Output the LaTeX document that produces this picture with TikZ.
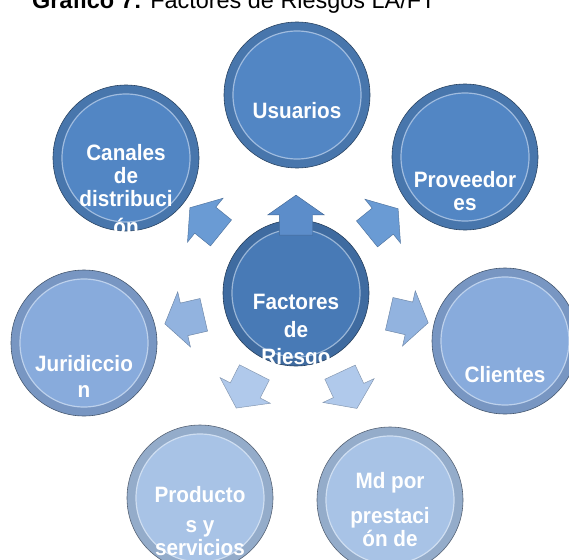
\documentclass[tikz,border=0pt]{standalone}
\usepackage{fontspec}
\setmainfont{Liberation Sans}
\newfontfamily\bubblefont[FakeStretch=0.93]{Liberation Sans}
\usetikzlibrary{shapes.arrows,positioning}

\definecolor{darkfac}{RGB}{72,122,182}
\definecolor{topfac}{RGB}{82,134,196}
\definecolor{midfac}{RGB}{136,171,220}
\definecolor{lowfac}{RGB}{168,195,230}
\definecolor{toparr}{RGB}{92,141,202}
\definecolor{diagarr}{RGB}{106,155,212}
\definecolor{sidearr}{RGB}{146,179,223}
\definecolor{lowarr}{RGB}{176,201,235}

\tikzset{
  bubble/.style={circle, draw=#1!50!black, line width=0.5pt, fill=#1!88!black,
    minimum size=4.38cm, inner sep=0pt,
    path picture={
      \fill[#1] (path picture bounding box.center) circle[radius=1.92cm];
      \draw[#1!55!white, line width=1pt] (path picture bounding box.center) circle[radius=1.92cm];
    }},
  factxt/.style={text=white, font=\bubblefont\bfseries\fontsize{19}{21}\selectfont,
    align=center, inner sep=0pt, anchor=north},
  riskarrow/.style={single arrow, draw=#1!75!black, fill=#1, line width=0.4pt,
    minimum height=1.2cm, minimum width=1.68cm, single arrow head extend=0.345cm,
    single arrow tip angle=110, inner xsep=0pt, inner ysep=0.495cm}
}

\begin{document}
\begin{tikzpicture}[x=0.03cm, y=-0.03cm]
  \useasboundingbox (0,0) rectangle (569,559);

  \node[anchor=base west, inner sep=0pt, font=\fontsize{20}{24}\selectfont] (title) at (32,9)
    {\textbf{Gráfico 7:} Factores de Riesgos LA/FT};

  % circles
  \node[bubble=topfac] (usu) at (297,95) {};
  \node[bubble=topfac] (can) at (126,158) {};
  \node[bubble=topfac] (pro) at (465,157) {};
  \node[bubble=darkfac] (fac) at (296,293) {};
  \node[bubble=midfac] (jur) at (84,343) {};
  \node[bubble=midfac] (cli) at (505,341) {};
  \node[bubble=lowfac] (prd) at (200,498) {};
  \node[bubble=lowfac] (mdp) at (390,500) {};

  % labels
  \node[factxt] (usu-t) at (297,102) {Usuarios};
  \node[factxt] (can-t) at (126,144) {Canales\\[-1.4pt]de\\[-1.5pt]distribuci\\[3pt]ón};
  \node[factxt] (pro-t) at (465,171) {Proveedor\\[-1.5pt]es};
  \node[factxt] (fac-t) at (296,294) {Factores\\[2.5pt]de\\[2.5pt]Riesgo};
  \node[factxt] (jur-t) at (84,355) {Juridiccio\\[1pt]n};
  \node[factxt] (cli-t) at (505,366) {Clientes};
  \node[factxt] (prd-t) at (200,486) {Producto\\[4.6pt]s y\\[-1pt]servicios};
  \node[factxt] (mdp-t) at (390,472) {Md por\\[9pt]prestaci\\[-1pt]ón de};

  % arrows from the centre
  \node[riskarrow=toparr, rotate=90] (a-usu) at (296,221) {};
  \node[riskarrow=diagarr, rotate=141] (a-can) at (210,224) {};
  \node[riskarrow=diagarr, rotate=39] (a-pro) at (378,225) {};
  \node[riskarrow=sidearr, rotate=193] (a-jur) at (190,318) {};
  \node[riskarrow=sidearr, rotate=-13] (a-cli) at (403,317) {};
  \node[riskarrow=lowarr, rotate=243] (a-prd) at (248,385) {};
  \node[riskarrow=lowarr, rotate=295] (a-mdp) at (346,385) {};
\end{tikzpicture}
\end{document}
